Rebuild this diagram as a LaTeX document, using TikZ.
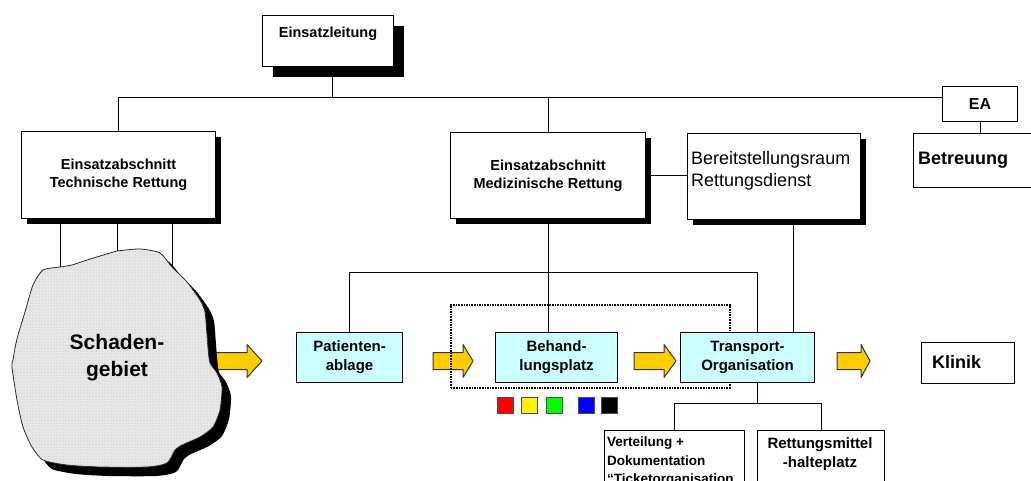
\documentclass[tikz,border=0pt]{standalone}
\usepackage{fontspec}
\setmainfont{Liberation Sans}
\usetikzlibrary{shadows,patterns,backgrounds}
\definecolor{paleaqua}{HTML}{CCFFFF}
\definecolor{flowyellow}{HTML}{FFCC00}
\definecolor{arrowline}{HTML}{333333}
\newcommand\fsz[2]{\fontsize{#1}{#2}\selectfont}
% block arrow: shaft start, head base, tip, centre line
\newcommand\flowarrow[4]{%
  \draw[flowarr] (#1,#4-8.5) -- (#2,#4-8.5) -- (#2,#4-16.5) -- (#3,#4)
    -- (#2,#4+16.5) -- (#2,#4+8.5) -- (#1,#4+8.5) -- cycle;}
\begin{document}
\begin{tikzpicture}[x=1pt,y=-1pt,
  box/.style={draw=black, line width=1.1pt, fill=white, inner sep=0pt, anchor=north west},
  shadowA/.style={general shadow={fill=black, shadow xshift=5pt, shadow yshift=-5pt}},
  shadowB/.style={general shadow={fill=black, shadow xshift=10pt, shadow yshift=-10pt}},
  aqua/.style={fill=paleaqua},
  head/.style={font=\bfseries\fsz{14.5}{18}, align=center},
  stage/.style={font=\bfseries\fsz{15}{19}, align=center},
  link/.style={draw=black, line width=1pt},
  flowarr/.style={draw=arrowline, fill=flowyellow, line width=1pt, line join=round},
  grpframe/.style={draw=black, line width=1.6pt, dash pattern=on 1.6pt off 1pt, inner sep=0pt, anchor=north west},
  swatch/.style={draw=gray!60!black, line width=0.6pt, minimum size=16pt, inner sep=0pt, anchor=north west},
]
\useasboundingbox (0,0) rectangle (1031,480);

% command structure
\node[box, shadowB, minimum width=131pt, minimum height=51pt] (leit) at (262,15) {};
\node[font=\bfseries\fsz{14.5}{18}] (leittext) at (328,34) {Einsatzleitung};
\node[box, shadowA, head, minimum width=194pt, minimum height=87pt] (tech) at (21,131) {Einsatzabschnitt\\Technische Rettung};
\node[box, shadowA, head, minimum width=195pt, minimum height=86pt] (med) at (450,132) {Einsatzabschnitt\\Medizinische Rettung};
\node[box, shadowA, minimum width=173pt, minimum height=86pt] (bereit) at (687,133) {};
\node[anchor=west, align=left, inner sep=0pt, font=\fsz{18}{22}] (bereittext) at (691,171) {Bereitstellungsraum\\Rettungsdienst};
\node[box, minimum width=75pt, minimum height=35pt, font=\bfseries\fsz{16}{18}] (ea) at (942,86) {EA};
\node[box, minimum width=130pt, minimum height=54pt] (betr) at (913,133) {};
\node[anchor=west, inner sep=0pt, font=\bfseries\fsz{18}{20}] (betrtext) at (918,160) {Betreuung};

% damage area
\coordinate (b1) at (60,267);
\coordinate (b2) at (117,251);
\coordinate (b3) at (172,267);
\fill[black, shift={(9,9)}] plot[smooth cycle, tension=0.4] coordinates {
  (43,270) (60,267) (72,265) (87,260) (110,253) (117,251) (140,249) (160,253)
  (172,267) (187,282) (200,300) (205,312) (207,335) (208,348) (210,363) (217,373)
  (222,387) (220,410) (213,427) (200,437) (182,445) (175,450) (167,463) (147,467)
  (100,467) (67,465) (43,460) (32,447) (23,427) (17,400) (12,367) (13,360)
  (15,348) (18,335) (25,312) (33,285)};
\path[draw=black!85, line width=0.8pt, fill=gray!18,
      postaction={pattern=dots, pattern color=gray!60}]
  plot[smooth cycle, tension=0.4] coordinates {
  (43,270) (60,267) (72,265) (87,260) (110,253) (117,251) (140,249) (160,253)
  (172,267) (187,282) (200,300) (205,312) (207,335) (208,348) (210,363) (217,373)
  (222,387) (220,410) (213,427) (200,437) (182,445) (175,450) (167,463) (147,467)
  (100,467) (67,465) (43,460) (32,447) (23,427) (17,400) (12,367) (13,360)
  (15,348) (18,335) (25,312) (33,285)};
\node[font=\bfseries\fsz{21}{27}, align=center] (schaden) at (117,358) {Schaden-\\gebiet};

% patient flow
\node[box, aqua, stage, minimum width=106pt, minimum height=50pt] (pat) at (296,332) {Patienten-\\ablage};
\node[box, aqua, stage, minimum width=122pt, minimum height=50pt] (beh) at (495,332) {Behand-\\lungsplatz};
\node[box, aqua, stage, minimum width=134pt, minimum height=50pt] (trans) at (680,332) {Transport-\\Organisation};
\node[box, minimum width=93pt, minimum height=41pt] (klinik) at (921,342) {};
\node[anchor=west, inner sep=0pt, font=\bfseries\fsz{18}{20}] (klinitext) at (932,362) {Klinik};

\node[box, minimum width=140pt, minimum height=70pt] (vert) at (604,430) {};
\node[anchor=north west, inner sep=0pt, align=left, font=\bfseries\fsz{13.5}{18.5}] (verttext) at (607,437) {Verteilung +\\Dokumentation\\“Ticketorganisation};
\node[box, minimum width=127pt, minimum height=70pt] (rett) at (757,430) {};
\node[anchor=north, inner sep=0pt, align=center, font=\bfseries\fsz{15}{19}] (retttext) at (820,437) {Rettungsmittel\\-halteplatz};

% triage categories
\node[swatch, fill=red] (sqr) at (497,397) {};
\node[swatch, fill=yellow] (sqy) at (521,397) {};
\node[swatch, fill=green] (sqg) at (546,397) {};
\node[swatch, fill=blue] (sqb) at (578,397) {};
\node[swatch, fill=black] (sqk) at (601,397) {};

\begin{scope}[on background layer]
  \coordinate (bus) at (0,97);
  \coordinate (bus2) at (0,272);
  \coordinate (bus3) at (0,403);
  \draw[link] (tech.north) -- (tech.north |- bus) -- (ea.west |- bus);
  \draw[link] ([xshift=4.5pt]leit.south) -- ([xshift=4.5pt]leit.south |- bus);
  \draw[link] (med.north) -- (med.north |- bus);
  \draw[link] (ea.south) -- (ea.south |- betr.north);
  \draw[link] (med.east) -- (med.east -| bereit.west);
  \draw[link] (tech.south -| b1) -- (b1);
  \draw[link] (tech.south -| b2) -- (b2);
  \draw[link] (tech.south -| b3) -- (b3);
  \draw[link] (med.south) -- (med.south |- beh.north);
  \draw[link] (pat.north) -- (pat.north |- bus2) -- ([xshift=10pt]trans.north |- bus2) -- ([xshift=10pt]trans.north);
  \draw[link] ([xshift=46pt]trans.north) -- ([xshift=46pt]trans.north |- bereit.south);
  \draw[link] ([xshift=10pt]trans.south) -- ([xshift=10pt]trans.south |- bus3);
  \draw[link] (vert.north) -- (vert.north |- bus3) -- (rett.north |- bus3) -- (rett.north);
  \flowarrow{200}{247}{262}{361}
  \flowarrow{433}{463}{473}{361}
  \flowarrow{634}{664}{676}{361}
  \flowarrow{837}{861}{870}{361}
  \node[grpframe, minimum width=279pt, minimum height=83pt] (grp) at (450,304) {};
\end{scope}
\end{tikzpicture}
\end{document}
